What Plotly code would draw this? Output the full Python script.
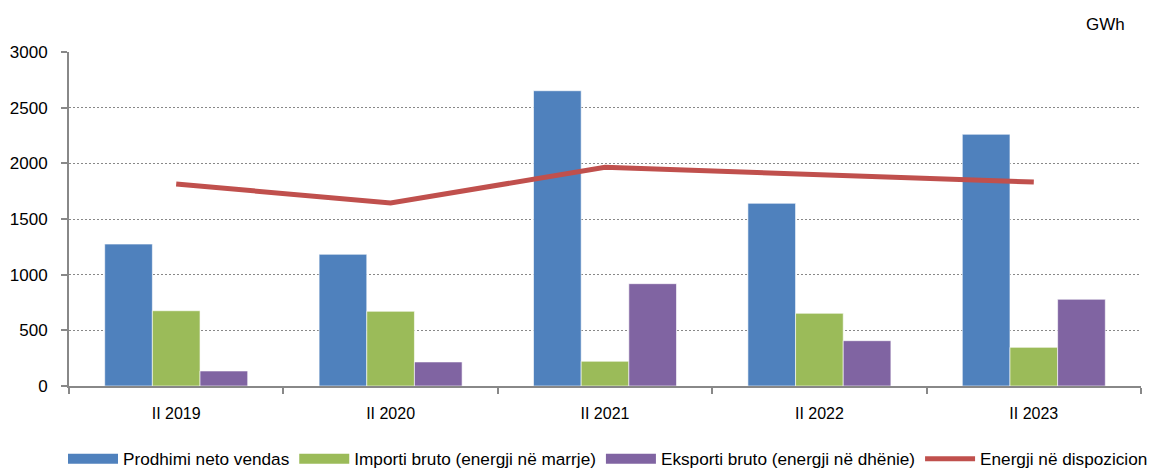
import plotly.graph_objects as go

categories = ["II 2019", "II 2020", "II 2021", "II 2022", "II 2023"]
prodhimi = [1275, 1183, 2652, 1641, 2261]
importi = [676, 671, 222, 653, 347]
eksporti = [135, 216, 919, 407, 779]
energji = [1814, 1644, 1964, 1900, 1832]

names = ["Prodhimi neto vendas", "Importi bruto (energji në marrje)",
         "Eksporti bruto (energji në dhënie)", "Energji në dispozicion"]
colors = ["#4F81BD", "#9BBB59", "#8064A2", "#C0504D"]

FONT = "Liberation Sans, Arial, sans-serif"

# page body has an 8px margin; figure sized to fill the rest of the window
W, H = 1156, 461
L, R, T, B = 61, 23, 44, 83
PW, PH = W - L - R, H - T - B

fig = go.Figure()
for vals, name, col in zip([prodhimi, importi, eksporti], names[:3], colors[:3]):
    fig.add_trace(go.Bar(x=categories, y=vals, name=name,
                         marker=dict(color=col, line=dict(color="rgba(255,255,255,0.6)", width=1)),
                         showlegend=False, legendgroup=name))
    fig.add_trace(go.Scatter(x=[None], y=[None], mode="lines", name=name, legendgroup=name,
                             line=dict(color=col, width=10)))
fig.add_trace(go.Scatter(x=categories, y=energji, mode="lines", name=names[3],
                         line=dict(color=colors[3], width=5)))

fig.update_layout(
    width=W, height=H,
    margin=dict(l=L, r=R, t=T, b=B, autoexpand=False),
    plot_bgcolor="white", paper_bgcolor="white",
    font=dict(family=FONT, size=16, color="#000"),
    barmode="group", bargap=0.333, bargroupgap=0,
    showlegend=True,
    legend=dict(orientation="h", xref="paper", yref="paper", x=(55 - L) / PW, xanchor="left",
                y=(H - B - 451) / PH, yanchor="middle",
                font=dict(size=17.2), itemwidth=50, tracegroupgap=0, bgcolor="rgba(0,0,0,0)"),
    annotations=[dict(text="GWh", xref="paper", yref="paper", showarrow=False,
                      x=(1097 - L) / PW, y=(H - B - 17) / PH,
                      xanchor="center", yanchor="middle", font=dict(size=17))],
)
fig.update_xaxes(showline=True, linecolor="#888", linewidth=2, ticks="outside", tickson="boundaries",
                 ticklen=6, tickcolor="#888", tickwidth=2, tickfont=dict(size=16), showgrid=False,
                 automargin=False, ticklabelstandoff=12)
fig.update_yaxes(range=[0, 3000], dtick=500, showline=True, linecolor="#888", linewidth=2,
                 ticks="outside", ticklen=6, tickcolor="#888", tickwidth=2,
                 showgrid=True, gridcolor="#888", griddash="2px,2px", gridwidth=1,
                 tickfont=dict(size=17), zeroline=False, automargin=False, ticklabelstandoff=10)

fig.write_html("out.html")
